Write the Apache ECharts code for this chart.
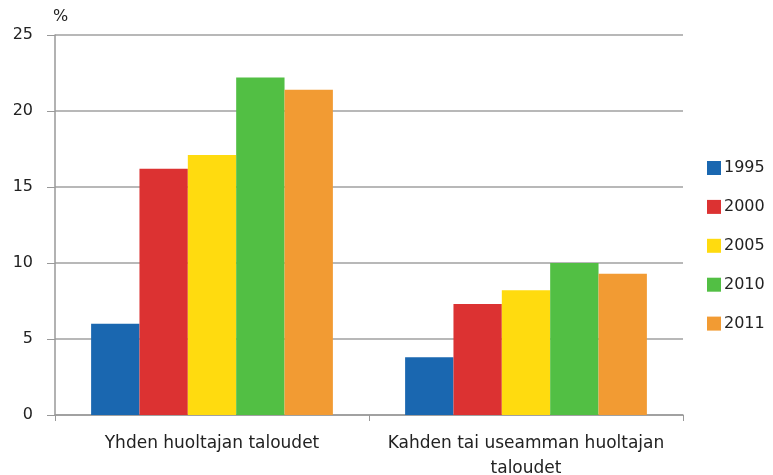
<!DOCTYPE html>
<html>
<head>
<meta charset="utf-8">
<script src="https://cdn.jsdelivr.net/npm/echarts@6/dist/echarts.min.js"></script>
<style>
  html, body { margin: 0; padding: 0; background: #fff; }
  #chart { width: 773px; height: 475px; }
</style>
</head>
<body>
<div id="chart"></div>
<script>
// kotitalouksien ryhmät
const categories = ['Yhden huoltajan taloudet', 'Kahden tai useamman huoltajan\ntaloudet'];
const years = ['1995', '2000', '2005', '2010', '2011'];
const v1995 = [6.0, 3.8];
const v2000 = [16.2, 7.3];
const v2005 = [17.1, 8.2];
const v2010 = [22.2, 10.0];
const v2011 = [21.4, 9.3];
const colors = ['#1a67b0', '#dc3232', '#ffdb0f', '#52bf44', '#f29b33'];

const values = [v1995, v2000, v2005, v2010, v2011];
const font = 'DejaVu Sans, Verdana, sans-serif';

const chart = echarts.init(document.getElementById('chart'));
chart.setOption({
  animation: false,
  grid: { left: 55, right: 90, top: 35, bottom: 60, outerBoundsMode: 'none', containLabel: false },
  legend: {
    orient: 'vertical',
    left: 702,
    top: 155,
    itemWidth: 14,
    itemHeight: 14,
    itemGap: 22.9,
    icon: 'rect',
    textStyle: { fontFamily: font, fontSize: 16, color: '#222', padding: [0, 0, 0, -2] },
    data: years
  },
  xAxis: {
    type: 'category',
    data: categories,
    axisLine: { lineStyle: { color: '#999', width: 1.5 } },
    axisTick: { show: true, length: 6, alignWithLabel: false, lineStyle: { color: '#999' } },
    axisLabel: {
      interval: 0,
      margin: 16,
      fontFamily: font,
      fontSize: 17,
      color: '#222',
      lineHeight: 25
    }
  },
  yAxis: {
    type: 'value',
    min: 0,
    max: 25,
    interval: 5,
    name: '%',
    nameLocation: 'end',
    nameGap: 10,
    nameTextStyle: { fontFamily: font, fontSize: 16, color: '#222', align: 'left', padding: [0, 0, 0, -2] },
    axisLine: { show: true, lineStyle: { color: '#999', width: 1.5 } },
    axisTick: { show: true, length: 8, lineStyle: { color: '#999' } },
    splitLine: { lineStyle: { color: '#a0a0a0', width: 1.5 } },
    axisLabel: { margin: 22, fontFamily: font, fontSize: 16, color: '#222' }
  },
  series: years.map((y, i) => ({
    name: y,
    type: 'bar',
    data: values[i],
    barGap: '0%',
    barCategoryGap: '23%',
    itemStyle: { color: colors[i] }
  }))
});
</script>
</body>
</html>
